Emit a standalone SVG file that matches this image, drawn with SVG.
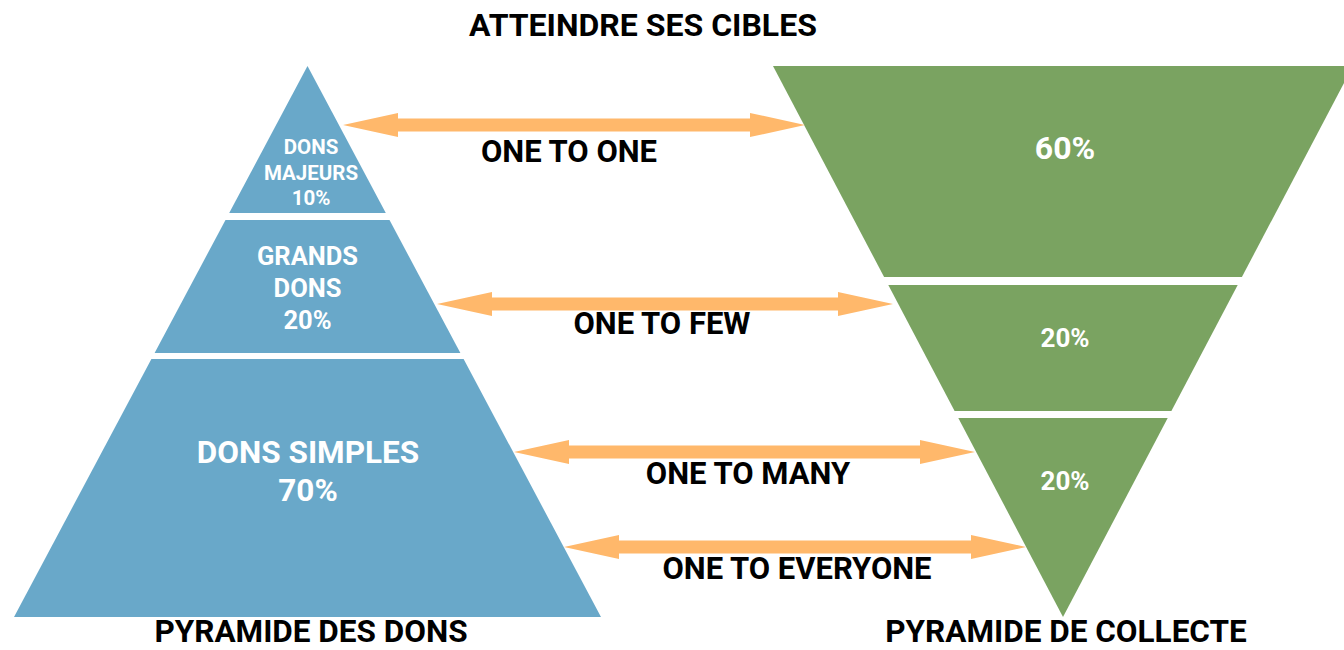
<svg xmlns="http://www.w3.org/2000/svg" width="1344" height="650" viewBox="0 0 1344 650">
<style>
.blue{fill:#69A8C9}
.green{fill:#7AA361}
.arrow{fill:#FFB86B}
text{font-family:Roboto,"Liberation Sans",Arial,sans-serif;font-weight:bold;text-anchor:middle}
.w{fill:#FFFFFF}
.k{fill:#000000}
</style>
<rect width="1344" height="650" fill="#FFFFFF"/>
<text class="k" x="643" y="36" font-size="32">ATTEINDRE SES CIBLES</text>
<g id="pyramide-dons">
<g id="dons-majeurs">
<polygon class="blue" points="307.5,66 385.8,213 229.2,213"/>
<text class="w" x="311" y="154" font-size="20.5">DONS</text>
<text class="w" x="311" y="180" font-size="20.5">MAJEURS</text>
<text class="w" x="311" y="205" font-size="20.5">10%</text>
</g>
<g id="grands-dons">
<polygon class="blue" points="225.5,220 389.5,220 460.4,353 154.6,353"/>
<text class="w" x="307.5" y="265" font-size="25.5">GRANDS</text>
<text class="w" x="307.5" y="297" font-size="25.5">DONS</text>
<text class="w" x="307.5" y="329" font-size="25.5">20%</text>
</g>
<g id="dons-simples">
<polygon class="blue" points="151.4,359 463.6,359 601,617 14,617"/>
<text class="w" x="308" y="463" font-size="31.5">DONS SIMPLES</text>
<text class="w" x="308" y="501" font-size="31.5">70%</text>
</g>
<text class="k" x="311" y="642" font-size="31.5">PYRAMIDE DES DONS</text>
</g>
<g id="pyramide-collecte">
<g id="collecte-60">
<polygon class="green" points="773,66 1353,66 1241.9,277 884.1,277"/>
<text class="w" x="1065" y="159" font-size="32">60%</text>
</g>
<g id="collecte-20a">
<polygon class="green" points="888.3,285 1237.7,285 1171.4,411 954.6,411"/>
<text class="w" x="1065" y="347" font-size="26">20%</text>
</g>
<g id="collecte-20b">
<polygon class="green" points="958.3,418 1167.7,418 1063,617"/>
<text class="w" x="1065" y="490" font-size="26">20%</text>
</g>
<text class="k" x="1066" y="642" font-size="31.5">PYRAMIDE DE COLLECTE</text>
</g>
<g id="connectors">
<polygon class="arrow" points="343,125 398,113 398,118.5 750,118.5 750,113 805,125 750,137 750,131.5 398,131.5 398,137"/>
<polygon class="arrow" points="437,304 492,292 492,297.5 838,297.5 838,292 893,304 838,316 838,310.5 492,310.5 492,316"/>
<polygon class="arrow" points="514,452 569,440 569,445.5 920,445.5 920,440 975,452 920,464 920,458.5 569,458.5 569,464"/>
<polygon class="arrow" points="564,547 619,535 619,540.5 971,540.5 971,535 1026,547 971,559 971,553.5 619,553.5 619,559"/>
<text class="k" x="569" y="162" font-size="31">ONE TO ONE</text>
<text class="k" x="662" y="334" font-size="31">ONE TO FEW</text>
<text class="k" x="748" y="484" font-size="31">ONE TO MANY</text>
<text class="k" x="797" y="579" font-size="31">ONE TO EVERYONE</text>
</g>
</svg>
